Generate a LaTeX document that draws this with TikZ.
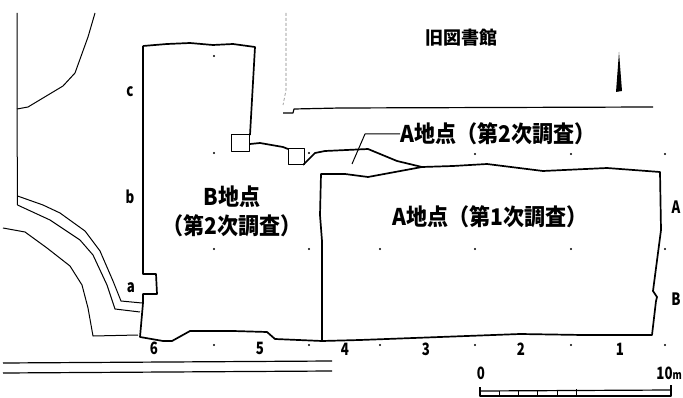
\documentclass[tikz,border=0pt]{standalone}
\usepackage{fontspec}
\setmainfont{Noto Sans CJK JP}
\newfontfamily\bigfont[FakeStretch=0.915]{Noto Sans CJK JP}
\newfontfamily\smallfont[FakeStretch=0.78]{Noto Sans CJK JP}
\usetikzlibrary{positioning}
\def \FirstDig {第1次調査}
\def \SecondDig {第2次調査}

\begin{document}
\begin{tikzpicture}[
	  x=1pt,
	  y=-1pt,
	  line join=round,
	  site_style/.style={
	  	draw,
	  	line width=1.7pt
	  },
	  thin_style/.style={
	  	draw,
	  	line width=1pt
	  },
	  road_style/.style={
	  	draw,
	  	line width=1.2pt
	  },
	  big_label/.style={
	  	inner sep=0pt,
	  	align=center,
	  	font=\bigfont\bfseries\fontsize{23}{29}\selectfont
	  },
	  small_label/.style={
	  	inner sep=0pt,
	  	font=\smallfont\bfseries\fontsize{17}{17}\selectfont
	  }]
	\useasboundingbox (0,0) rectangle (683,398);
	% Surroundings
	\draw[thin_style] (17,13) -- (17,109) -- (17.5,205);
	\draw[thin_style] (95,13) -- (88,37) -- (75,73) -- (63,86) -- (28,107) -- (17,109);
	\draw[thin_style] (17.5,196) -- (43,205) -- (60,213) -- (85,231) -- (100,251) -- (113,281) -- (121,301) -- (142,303);
	\draw[thin_style] (17.5,205) -- (50,220) -- (80,240) -- (93,255) -- (107,285) -- (115,309) -- (140,312);
	\draw[thin_style] (3,228) -- (25,232) -- (47,248) -- (70,266) -- (82,285) -- (88,308) -- (93,336) -- (138,335);
	\draw[road_style] (3,363) -- (332,361);
	\draw[road_style] (3,373) -- (332,371);
	\draw[gray, line width=0.6pt, densely dashed] (286,13) -- (286,90) -- (283,105);
	\draw[road_style] (283,113) -- (293,113) -- (294,109) -- (340,108) -- (653,107);
	% North mark
	\fill (619,52) -- (616,92) -- (622,91) -- cycle;
	% Point B
	\draw[site_style] (143,46) -- (167,44) -- (190,43) -- (213,45) -- (233,44) -- (255,47) -- (250,135);
	\draw[site_style] (143,46) -- (143,274) -- (156,274) -- (157,294) -- (143,294) -- (143,303)
		-- (140,337) -- (163,341) -- (172,341) -- (190,331) -- (200,331) -- (233,331)
		-- (267,332) -- (275,339) -- (322,341);
	% Pits
	\draw[thin_style] (231,135) rectangle (249.5,152);
	\draw[thin_style] (288,149) rectangle (304,165);
	\draw[site_style] (250,144) -- (260,143) -- (283,147) -- (288,149);
	\draw[site_style] (303,165) -- (315,153) -- (325,151) -- (368,149) -- (397,161) -- (422,167);
	% Point A
	\draw[site_style] (322,341) -- (322,241) -- (320,215) -- (321,174) -- (345,174) -- (368,177)
		-- (422,167) -- (453,166) -- (487,164) -- (543,171) -- (607,168) -- (660,172)
		-- (661,230) -- (653,291) -- (657,297) -- (656,301) -- (652,335) -- (583,335)
		-- (520,334) -- (360,340) -- (322,341);
	% Grid marks
	\foreach \px/\py in {214/56, 214/153, 309/153, 475/154, 571/154, 665/154}
		\fill (\px,\py) circle (1.1pt);
	\foreach \py in {249,345}
		\foreach \px in {214,309,380,475,571,665}
			\fill (\px,\py) circle (1.1pt);
	% Labels
	\node[big_label] (point_b) at (232,211) {B地点\\（\SecondDig）};
	\node[big_label, anchor=west] (point_a_first) at (392,217) {A地点（\FirstDig）};
	\node[big_label, anchor=west] (point_a_second) at (400,134) {A地点（\SecondDig）};
	\node[font=\bfseries\fontsize{18}{18}\selectfont, inner sep=0pt] (library) at (461,38) {旧図書館};
	\coordinate (leader_end) at (352,164);
	\coordinate (leader_bend) at (365,134);
	\draw[thin_style] (point_a_second.west) -- (leader_bend) -- (leader_end);
	\node[small_label] (col_c) at (130,92) {c};
	\node[small_label] (col_b) at (130,197) {b};
	\node[small_label] (col_a) at (131,288) {a};
	\node[small_label] (row_six) at (154,348) {6};
	\node[small_label] (row_five) at (260,348) {5};
	\node[small_label] (row_four) at (345,349) {4};
	\node[small_label] (row_three) at (426,349) {3};
	\node[small_label] (row_two) at (521,349) {2};
	\node[small_label] (row_one) at (620,349) {1};
	\node[small_label] (col_upper_a) at (676,207) {A};
	\node[small_label] (col_upper_b) at (676,299) {B};
	% Scale
	\node[small_label] (scale_zero) at (481,373) {0};
	\node[small_label, anchor=east] (scale_ten) at (682,373) {10\fontsize{12}{12}\selectfont m};
	\draw[road_style] (480,387) -- (480,396) -- (671,396) -- (671,385);
	\draw[road_style] (480,391) -- (671,390);
	\draw[thin_style] (576,389) -- (576,396);
	\foreach \px in {499,518,537,557}
		\draw[line width=0.6pt] (\px,391) -- (\px,396);
\end{tikzpicture}
\end{document}
